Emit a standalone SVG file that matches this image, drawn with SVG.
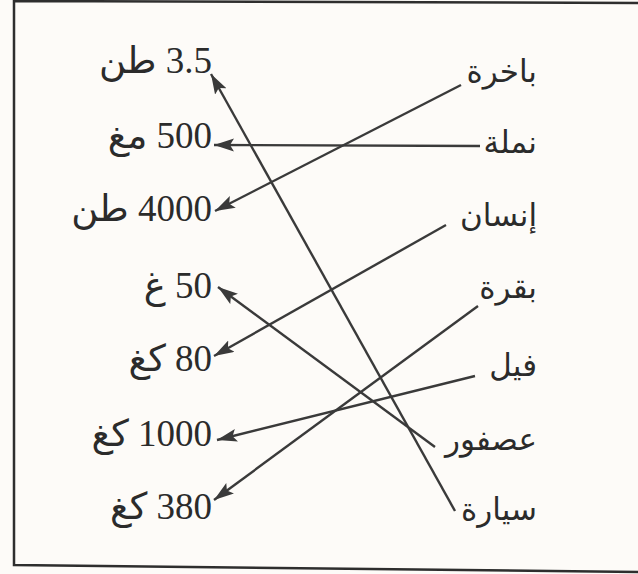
<svg xmlns="http://www.w3.org/2000/svg" width="638" height="574" viewBox="0 0 638 574">
<defs>
<style>
.bg{fill:#fdfbf8}
.frame{fill:none;stroke:#2e2e2e;stroke-width:2.5}
.num{font-family:"Liberation Serif","DejaVu Sans",serif;font-size:37px;fill:#2b2b2b}
.ar{font-family:"DejaVu Sans","Liberation Serif",sans-serif;font-size:31px;fill:#2b2b2b}
.c{stroke:#3a3a3a;stroke-width:2.4;fill:none;marker-end:url(#ah)}
</style>
<marker id="ah" markerUnits="userSpaceOnUse" markerWidth="22" markerHeight="14" refX="20" refY="6.5" orient="auto">
<path d="M0,0 L20,6.5 L0,13 L4,6.5 z" fill="#3a3a3a"/>
</marker>
</defs>
<rect class="bg" x="0" y="0" width="638" height="574"/>
<path class="frame" d="M638,3 L14,1 L14,565 L638,572"/>

<g id="left-3-5-ton"><text class="num" x="212" y="73" direction="rtl" text-anchor="start">3.5 طن</text></g>
<g id="left-500-mg"><text class="num" x="212" y="148" direction="rtl" text-anchor="start">500 مغ</text></g>
<g id="left-4000-ton"><text class="num" x="212" y="221" direction="rtl" text-anchor="start">4000 طن</text></g>
<g id="left-50-g"><text class="num" x="212" y="298" direction="rtl" text-anchor="start">50 غ</text></g>
<g id="left-80-kg"><text class="num" x="212" y="371" direction="rtl" text-anchor="start">80 كغ</text></g>
<g id="left-1000-kg"><text class="num" x="212" y="446" direction="rtl" text-anchor="start">1000 كغ</text></g>
<g id="left-380-kg"><text class="num" x="212" y="519" direction="rtl" text-anchor="start">380 كغ</text></g>

<g id="right-ship"><text class="ar" x="537" y="82" direction="rtl" text-anchor="start">باخرة</text></g>
<g id="right-ant"><text class="ar" x="537" y="153" direction="rtl" text-anchor="start">نملة</text></g>
<g id="right-human"><text class="ar" x="537" y="226" direction="rtl" text-anchor="start">إنسان</text></g>
<g id="right-cow"><text class="ar" x="537" y="298" direction="rtl" text-anchor="start">بقرة</text></g>
<g id="right-elephant"><text class="ar" x="537" y="376" direction="rtl" text-anchor="start">فيل</text></g>
<g id="right-sparrow"><text class="ar" x="537" y="450" direction="rtl" text-anchor="start">عصفور</text></g>
<g id="right-car"><text class="ar" x="537" y="520" direction="rtl" text-anchor="start">سيارة</text></g>

<g id="connectors">
<line class="c" x1="461" y1="85" x2="215" y2="211"/>
<line class="c" x1="480" y1="146" x2="214" y2="145"/>
<line class="c" x1="446" y1="225" x2="214" y2="356"/>
<line class="c" x1="478" y1="306" x2="214" y2="500"/>
<line class="c" x1="475" y1="376" x2="217" y2="440"/>
<line class="c" x1="435" y1="447" x2="218" y2="287"/>
<line class="c" x1="455" y1="511" x2="211" y2="74"/>
</g>
</svg>
